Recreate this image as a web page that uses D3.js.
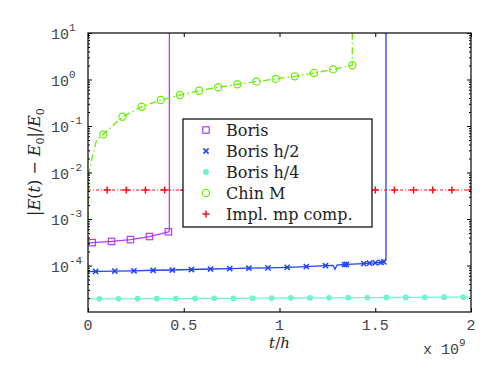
<!DOCTYPE html>
<html>
<head>
<meta charset="utf-8">
<script src="https://cdn.jsdelivr.net/npm/d3@7"></script>
<style>
  body { margin: 0; background: #fff; }
  svg { display: block; }
</style>
</head>
<body>
<svg id="canvas"></svg>
<script>
// x values are in units of 1e9 (t/h)
const borisX = [0, 0.022, 0.123, 0.222, 0.321, 0.42, 0.425, 0.425];
const borisY = [3.0e-4, 3.1e-4, 3.3e-4, 3.6e-4, 4.2e-4, 5.3e-4, 5.6e-4, 20];
const borisMarkX = [0.022, 0.123, 0.222, 0.321, 0.42];
const borisMarkY = [3.1e-4, 3.3e-4, 3.6e-4, 4.2e-4, 5.3e-4];

const halfX = [0, 0.04, 0.14, 0.24, 0.34, 0.44, 0.54, 0.64, 0.74, 0.84, 0.94, 1.04, 1.14, 1.24, 1.28, 1.29, 1.30, 1.34, 1.35, 1.44, 1.47, 1.50, 1.53, 1.545, 1.553, 1.556, 1.556];
const halfY = [7.4e-5, 7.45e-5, 7.6e-5, 7.7e-5, 7.9e-5, 8.0e-5, 8.2e-5, 8.4e-5, 8.6e-5, 8.75e-5, 8.9e-5, 9.1e-5, 9.5e-5, 9.9e-5, 1.01e-4, 8.3e-5, 1.02e-4, 1.05e-4, 1.06e-4, 1.1e-4, 1.12e-4, 1.14e-4, 1.17e-4, 1.2e-4, 1.3e-4, 1.5e-4, 20];
const halfMarkX = [0.04, 0.14, 0.24, 0.34, 0.44, 0.54, 0.64, 0.74, 0.84, 0.94, 1.04, 1.14, 1.24, 1.34, 1.35, 1.44, 1.47, 1.50, 1.53, 1.545];
const halfMarkY = [7.45e-5, 7.6e-5, 7.7e-5, 7.9e-5, 8.0e-5, 8.2e-5, 8.4e-5, 8.6e-5, 8.75e-5, 8.9e-5, 9.1e-5, 9.5e-5, 9.9e-5, 1.05e-4, 1.06e-4, 1.1e-4, 1.12e-4, 1.14e-4, 1.17e-4, 1.2e-4];

const quarterX = [0, 0.059, 0.159, 0.259, 0.359, 0.459, 0.559, 0.659, 0.759, 0.859, 0.959, 1.059, 1.159, 1.259, 1.359, 1.459, 1.559, 1.659, 1.759, 1.859, 1.959, 2.0];
const quarterY = [1.92e-5, 1.92e-5, 1.92e-5, 1.93e-5, 1.93e-5, 1.94e-5, 1.95e-5, 1.96e-5, 1.97e-5, 1.98e-5, 1.99e-5, 2.0e-5, 2.01e-5, 2.02e-5, 2.03e-5, 2.04e-5, 2.05e-5, 2.06e-5, 2.07e-5, 2.08e-5, 2.08e-5, 2.09e-5];

const chinX = [0, 0.002, 0.006, 0.019, 0.045, 0.08, 0.18, 0.28, 0.38, 0.48, 0.58, 0.68, 0.78, 0.88, 0.98, 1.08, 1.18, 1.28, 1.38, 1.38];
const chinY = [1e-3, 5e-3, 1e-2, 0.019, 0.05, 0.066, 0.158, 0.26, 0.362, 0.464, 0.574, 0.68, 0.79, 0.90, 1.03, 1.17, 1.38, 1.65, 2.02, 20];
const chinMarkX = [0.08, 0.18, 0.28, 0.38, 0.48, 0.58, 0.68, 0.78, 0.88, 0.98, 1.08, 1.18, 1.28, 1.38];
const chinMarkY = [0.066, 0.158, 0.26, 0.362, 0.464, 0.574, 0.68, 0.79, 0.90, 1.03, 1.17, 1.38, 1.65, 2.02];

const implX = [0, 2.0];
const implY = [4.2e-3, 4.2e-3];
const implMarkX = [0.1, 0.2, 0.3, 0.4, 0.5, 0.6, 0.7, 0.8, 0.9, 1.0, 1.1, 1.2, 1.3, 1.4, 1.5, 1.6, 1.7, 1.8, 1.9, 2.0];

const legendLabels = ["Boris", "Boris h/2", "Boris h/4", "Chin M", "Impl. mp comp."];
const xTicks = [0, 0.5, 1, 1.5, 2];
const xTickLabels = ["0", "0.5", "1", "1.5", "2"];
const yTickExps = [-4, -3, -2, -1, 0, 1];

const width = 491;
const height = 369;
const plotLeft = 88, plotRight = 471, plotTop = 33, plotBottom = 312;

const svg = d3.select("#canvas")
              .attr("width", width)
              .attr("height", height);

const xScale = d3.scaleLinear().domain([0, 2]).range([plotLeft, plotRight]);
const yScale = d3.scaleLog().domain([1e-5, 10]).range([plotBottom, plotTop]);

svg.append("clipPath").attr("id", "plotclip")
   .append("rect")
   .attr("x", plotLeft).attr("y", plotTop)
   .attr("width", plotRight - plotLeft).attr("height", plotBottom - plotTop);

const plot = svg.append("g").attr("clip-path", "url(#plotclip)");

const line = d3.line().x(d => xScale(d[0])).y(d => yScale(d[1]));

const series = [
  {x: borisX, y: borisY, mx: borisMarkX, my: borisMarkY, color: "#b43cf5", dash: null, marker: "square", w: 1.3},
  {x: halfX, y: halfY, mx: halfMarkX, my: halfMarkY, color: "#2142ff", dash: null, marker: "cross", w: 1.3},
  {x: quarterX, y: quarterY, mx: quarterX.slice(1, -1), my: quarterY.slice(1, -1), color: "#72f2d0", dash: null, marker: "dot", w: 1.3},
  {x: chinX, y: chinY, mx: chinMarkX, my: chinMarkY, color: "#66ee00", dash: "7,3,1.5,3", marker: "circle", w: 1.3},
  {x: implX, y: implY, mx: implMarkX, my: implMarkX.map(() => implY[0]), color: "#ff1010", dash: "3,2,1,2", marker: "plus", w: 1}
];

function drawMarker(g, type, x, y, color) {
  if (type === "square") {
    g.append("rect").attr("x", x - 3.2).attr("y", y - 3.2).attr("width", 6.4).attr("height", 6.4)
     .attr("fill", "none").attr("stroke", color).attr("stroke-width", 1.2);
  } else if (type === "cross") {
    g.append("path").attr("d", `M${x - 2.6},${y - 2.6}L${x + 2.6},${y + 2.6}M${x - 2.6},${y + 2.6}L${x + 2.6},${y - 2.6}`)
     .attr("stroke", color).attr("stroke-width", 1.5);
  } else if (type === "dot") {
    g.append("circle").attr("cx", x).attr("cy", y).attr("r", 2.9).attr("fill", color);
  } else if (type === "circle") {
    g.append("circle").attr("cx", x).attr("cy", y).attr("r", 3.6)
     .attr("fill", "none").attr("stroke", color).attr("stroke-width", 1.2);
  } else if (type === "plus") {
    g.append("path").attr("d", `M${x - 3.5},${y}L${x + 3.5},${y}M${x},${y - 3.5}L${x},${y + 3.5}`)
     .attr("stroke", color).attr("stroke-width", 1.5);
  }
}

series.forEach(s => {
  plot.append("path")
      .datum(s.x.map((v, i) => [v, s.y[i]]))
      .attr("d", line)
      .attr("fill", "none")
      .attr("stroke", s.color)
      .attr("stroke-width", s.w)
      .attr("stroke-dasharray", s.dash);
  const mg = plot.append("g");
  s.mx.forEach((v, i) => drawMarker(mg, s.marker, xScale(v), yScale(s.my[i]), s.color));
});

// axes with inward ticks
const majorY = yTickExps.map(e => Math.pow(10, e));
const minorY = [];
for (let e = -5; e < 1; e++) {
  for (let m = 2; m < 10; m++) minorY.push(m * Math.pow(10, e));
}

svg.append("g").attr("transform", `translate(0,${plotBottom})`)
   .call(d3.axisBottom(xScale).tickValues(xTicks).tickSizeInner(-4).tickSizeOuter(0).tickFormat(""));
svg.append("g").attr("transform", `translate(0,${plotTop})`)
   .call(d3.axisTop(xScale).tickValues(xTicks).tickSizeInner(-4).tickSizeOuter(0).tickFormat(""));
svg.append("g").attr("transform", `translate(${plotLeft},0)`)
   .call(d3.axisLeft(yScale).tickValues(majorY).tickSizeInner(-4).tickSizeOuter(0).tickFormat(""));
svg.append("g").attr("transform", `translate(${plotRight},0)`)
   .call(d3.axisRight(yScale).tickValues(majorY).tickSizeInner(-4).tickSizeOuter(0).tickFormat(""));
svg.append("g").attr("transform", `translate(${plotLeft},0)`)
   .call(d3.axisLeft(yScale).tickValues(minorY).tickSizeInner(-2).tickSizeOuter(0).tickFormat(""));
svg.append("g").attr("transform", `translate(${plotRight},0)`)
   .call(d3.axisRight(yScale).tickValues(minorY).tickSizeInner(-2).tickSizeOuter(0).tickFormat(""));

svg.selectAll(".domain").remove();
svg.selectAll(".tick line").attr("stroke", "#000").attr("stroke-width", 1);

svg.append("rect")
   .attr("x", plotLeft).attr("y", plotTop)
   .attr("width", plotRight - plotLeft).attr("height", plotBottom - plotTop)
   .attr("fill", "none").attr("stroke", "#000").attr("stroke-width", 1.2);

const tickFont = "'Liberation Mono', 'DejaVu Sans Mono', monospace";

// x tick labels
svg.append("g").selectAll("text")
   .data(xTicks)
   .enter()
   .append("text")
   .attr("x", d => xScale(d))
   .attr("y", plotBottom + 18)
   .attr("text-anchor", "middle")
   .attr("font-family", tickFont)
   .attr("font-size", 15)
   .attr("fill", "#444")
   .text((d, i) => xTickLabels[i]);

// y tick labels 10^e
const yLab = svg.append("g").selectAll("text")
   .data(yTickExps)
   .enter()
   .append("text")
   .attr("x", 51)
   .attr("y", d => yScale(Math.pow(10, d)) + 6)
   .attr("font-family", tickFont)
   .attr("font-size", 15)
   .attr("fill", "#444");
yLab.append("tspan").text("10");
yLab.append("tspan").attr("dy", -8).attr("font-size", 11).text(d => d < 0 ? "-" + (-d) : String(d));

// multiplier
const mult = svg.append("text")
   .attr("x", 423).attr("y", 354)
   .attr("font-family", tickFont)
   .attr("font-size", 15)
   .attr("fill", "#444");
mult.append("tspan").text("x 10");
mult.append("tspan").attr("dy", -8).attr("font-size", 11).text("9");

// axis titles
const serif = "'DejaVu Serif', 'Liberation Serif', serif";
const xt = svg.append("text")
   .attr("x", xScale(1)).attr("y", 348)
   .attr("text-anchor", "middle")
   .attr("font-family", serif).attr("font-size", 15).attr("fill", "#222");
xt.append("tspan").attr("font-style", "italic").text("t");
xt.append("tspan").text("/");
xt.append("tspan").attr("font-style", "italic").text("h");

const yt = svg.append("text")
   .attr("transform", `translate(40,162) rotate(-90)`)
   .attr("text-anchor", "middle")
   .attr("font-family", serif).attr("font-size", 16).attr("fill", "#222");
yt.append("tspan").text("|");
yt.append("tspan").attr("font-style", "italic").text("E");
yt.append("tspan").text("(");
yt.append("tspan").attr("font-style", "italic").text("t");
yt.append("tspan").text(") \u2212 ");
yt.append("tspan").attr("font-style", "italic").text("E");
yt.append("tspan").attr("font-size", 11).attr("dy", 4).text("0");
yt.append("tspan").attr("dy", -4).text("|/");
yt.append("tspan").attr("font-style", "italic").text("E");
yt.append("tspan").attr("font-size", 11).attr("dy", 4).text("0");

// legend
const lg = svg.append("g");
lg.append("rect")
  .attr("x", 183).attr("y", 119)
  .attr("width", 189).attr("height", 108)
  .attr("fill", "#fff").attr("stroke", "#000").attr("stroke-width", 1.2);
legendLabels.forEach((name, i) => {
  const ly = 130 + i * 21;
  drawMarker(lg, series[i].marker, 206, ly, series[i].color);
  lg.append("text")
    .attr("x", 226).attr("y", ly + 6)
    .attr("font-family", serif).attr("font-size", 16).attr("fill", "#222")
    .text(name);
});
</script>
</body>
</html>
